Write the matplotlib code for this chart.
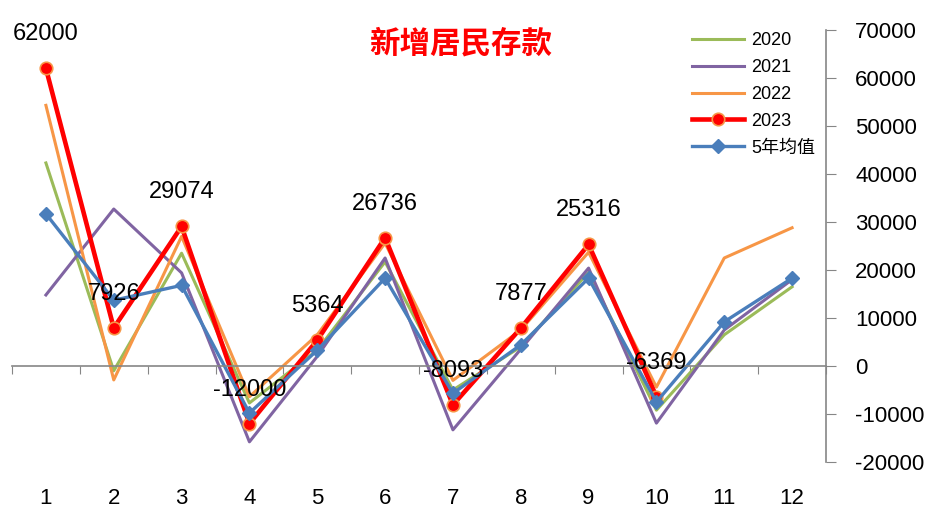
import numpy as np
import matplotlib.pyplot as plt
from matplotlib import transforms

plt.rcParams["font.family"] = ["Liberation Sans", "Noto Sans CJK SC"]
plt.rcParams["axes.unicode_minus"] = False

months = list(range(1, 13))
y2020 = [42300, -1000, 23500, -7700, 3300, 21700, -5000, 4000, 19500, -9200, 6500, 16500]
y2021 = [14800, 32700, 19400, -15800, 2000, 22500, -13300, 3500, 20400, -11900, 7500, 18000]
y2022 = [54300, -2900, 27000, -6400, 6500, 25600, -3000, 7500, 23700, -4400, 22500, 28800]
y2023 = [62000, 7926, 29074, -12000, 5364, 26736, -8093, 7877, 25316, -6369, np.nan, np.nan]
avg5 = [31700, 13700, 16800, -9800, 3300, 18300, -5700, 4400, 18300, -7500, 9200, 18300]

fig = plt.figure(figsize=(9.27, 5.08), dpi=100)
ax = fig.add_axes([12 / 927, 46 / 508, 814 / 927, 432 / 508])

ax.plot(months, y2020, color="#9BBB59", lw=2.2, label="2020")
ax.plot(months, y2021, color="#8064A2", lw=2.2, label="2021")
ax.plot(months, y2022, color="#F79646", lw=2.2, label="2022")
ax.plot(months, y2023, color="#FF0000", lw=3.3, marker="o", ms=9,
        mfc="#FF0000", mec="#F79646", mew=1.2, label="2023")
ax.plot(months, avg5, color="#4A7EBB", lw=2.4, marker="D", ms=7,
        label="5年均值")

# data labels for 2023
for m, v in zip(months, y2023):
    if np.isnan(v):
        continue
    ax.annotate(str(int(v)), (m, v), xytext=(0, 24.5), textcoords="offset points",
                ha="center", va="center", fontsize=17)

ax.set_xlim(0.5, 12.5)
ax.set_ylim(-20000, 70000)
ax.set_yticks(np.arange(-20000, 70001, 10000))
ax.yaxis.tick_right()
ax.tick_params(axis="y", direction="out", length=7, color="#868686",
               labelsize=16, pad=14)

ax.set_xticks(np.arange(0.5, 12.6, 1))
ax.set_xticklabels([])
ax.tick_params(axis="x", direction="out", length=6, color="#868686")

for s in ["left", "top"]:
    ax.spines[s].set_visible(False)
ax.spines["bottom"].set_position(("data", 0))
ax.spines["bottom"].set_color("#868686")
ax.spines["right"].set_color("#868686")
ax.spines["bottom"].set_linewidth(1.2)
ax.spines["right"].set_linewidth(1.2)

trans = transforms.blended_transform_factory(ax.transData, fig.transFigure)
for m in months:
    ax.text(m, 1 - 498 / 508, str(m), transform=trans, ha="center",
            va="center", fontsize=16)

fig.text(461 / 927, 1 - 43 / 508, "新增居民存款", color="#FF0000",
         fontsize=22, fontweight="bold", ha="center", va="center",
         family=["Noto Sans CJK SC"])

fig.legend(loc="upper left", bbox_to_anchor=(692 / 927, 1 - 32 / 508),
           frameon=False, fontsize=13, handlelength=2.9, handletextpad=0.4,
           labelspacing=0.55, borderpad=0, borderaxespad=0)

fig.savefig("out.png", dpi=100)
